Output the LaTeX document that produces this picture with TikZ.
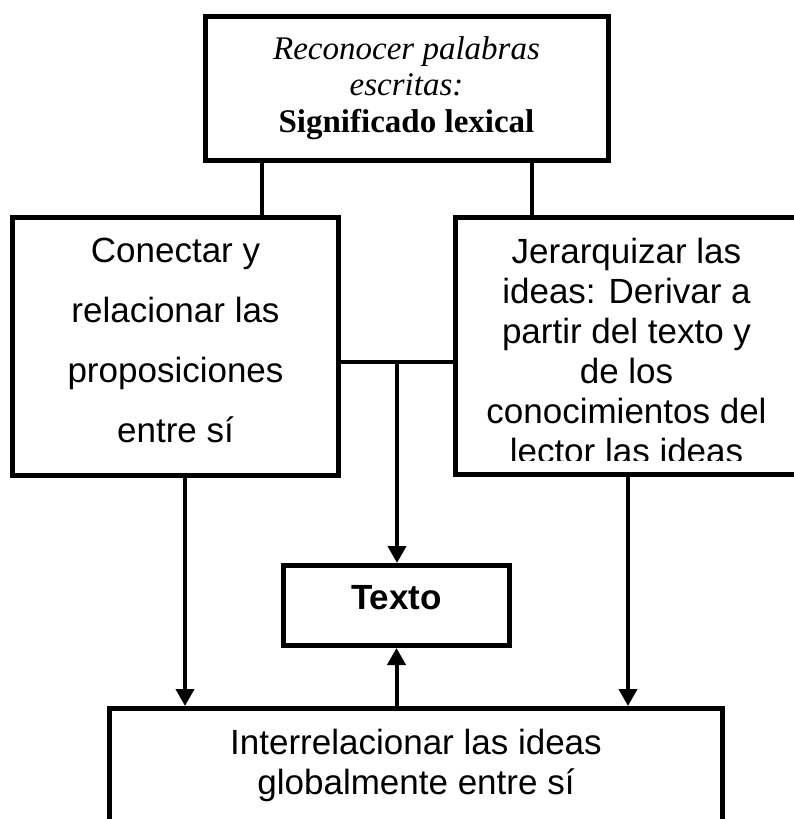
\documentclass[tikz,border=0pt]{standalone}
\usepackage{fontspec}
\setmainfont{Liberation Sans}
\newfontfamily\timesfont{Liberation Serif}
\usetikzlibrary{arrows.meta}

\begin{document}
\begin{tikzpicture}[x=1pt, y=-1pt,
    caja/.style={draw, line width=5pt, inner sep=0pt, align=center},
    link/.style={line width=4pt},
    flecha/.style={line width=4pt, -{Triangle[width=18pt,length=17pt]}}]
\useasboundingbox (0,0) rectangle (793,819);
% cajas
\node[caja,
    minimum width=403pt,
    minimum height=144pt,
    font=\timesfont\fontsize{33}{36.5}\selectfont
] (lex) at (406.5, 88) {\textit{Reconocer palabras}\\\textit{escritas:}\\\textbf{Significado lexical}};
\node[caja,
    minimum width=326pt,
    minimum height=258pt,
    text depth=12pt,
    font=\fontsize{35}{60}\selectfont
] (con) at (175.5, 346.5) {Conectar y\\relacionar las\\proposiciones\\entre sí};
\node[caja,
    minimum width=342pt,
    minimum height=257pt
] (jer) at (626.5, 346) {};
\begin{scope}
\clip (458, 220) rectangle (800, 460);
\node[align=center,
    inner sep=0pt,
    anchor=north,
    font=\fontsize{35}{40}\selectfont
] (jertxt) at (626.5, 237.5) {Jerarquizar las\\ideas: Derivar a\\partir del texto y\\de los\\conocimientos del\\lector las ideas};
\end{scope}
\node[caja,
    minimum width=226pt,
    minimum height=80pt,
    text depth=15.7pt,
    font=\bfseries\fontsize{35}{40}\selectfont
] (texto) at (396.5, 605.5) {Texto};
\node[caja,
    minimum width=613pt,
    minimum height=113.5pt,
    font=\fontsize{35}{40}\selectfont
] (inter) at (416, 765.25) {Interrelacionar las ideas\\globalmente entre sí};
% conectores
\coordinate (s1) at (262, 0);
\coordinate (s2) at (532, 0);
\coordinate (mid) at (397, 362);
\draw[link] (lex.south -| s1) -- (con.north -| s1);
\draw[link] (lex.south -| s2) -- (jer.north -| s2);
\draw[link] (con.east |- mid) -- (jer.west |- mid);
\draw[flecha] (mid) -- (texto.north -| mid);
\foreach\x/\b in{185/con, 628/jer}{
    \coordinate (a\b) at (\x, 0);
    \draw[flecha] (\b.south -| a\b) -- (inter.north -| a\b);
}
\draw[flecha] (inter.north -| texto) -- (texto.south);
\end{tikzpicture}
\end{document}
